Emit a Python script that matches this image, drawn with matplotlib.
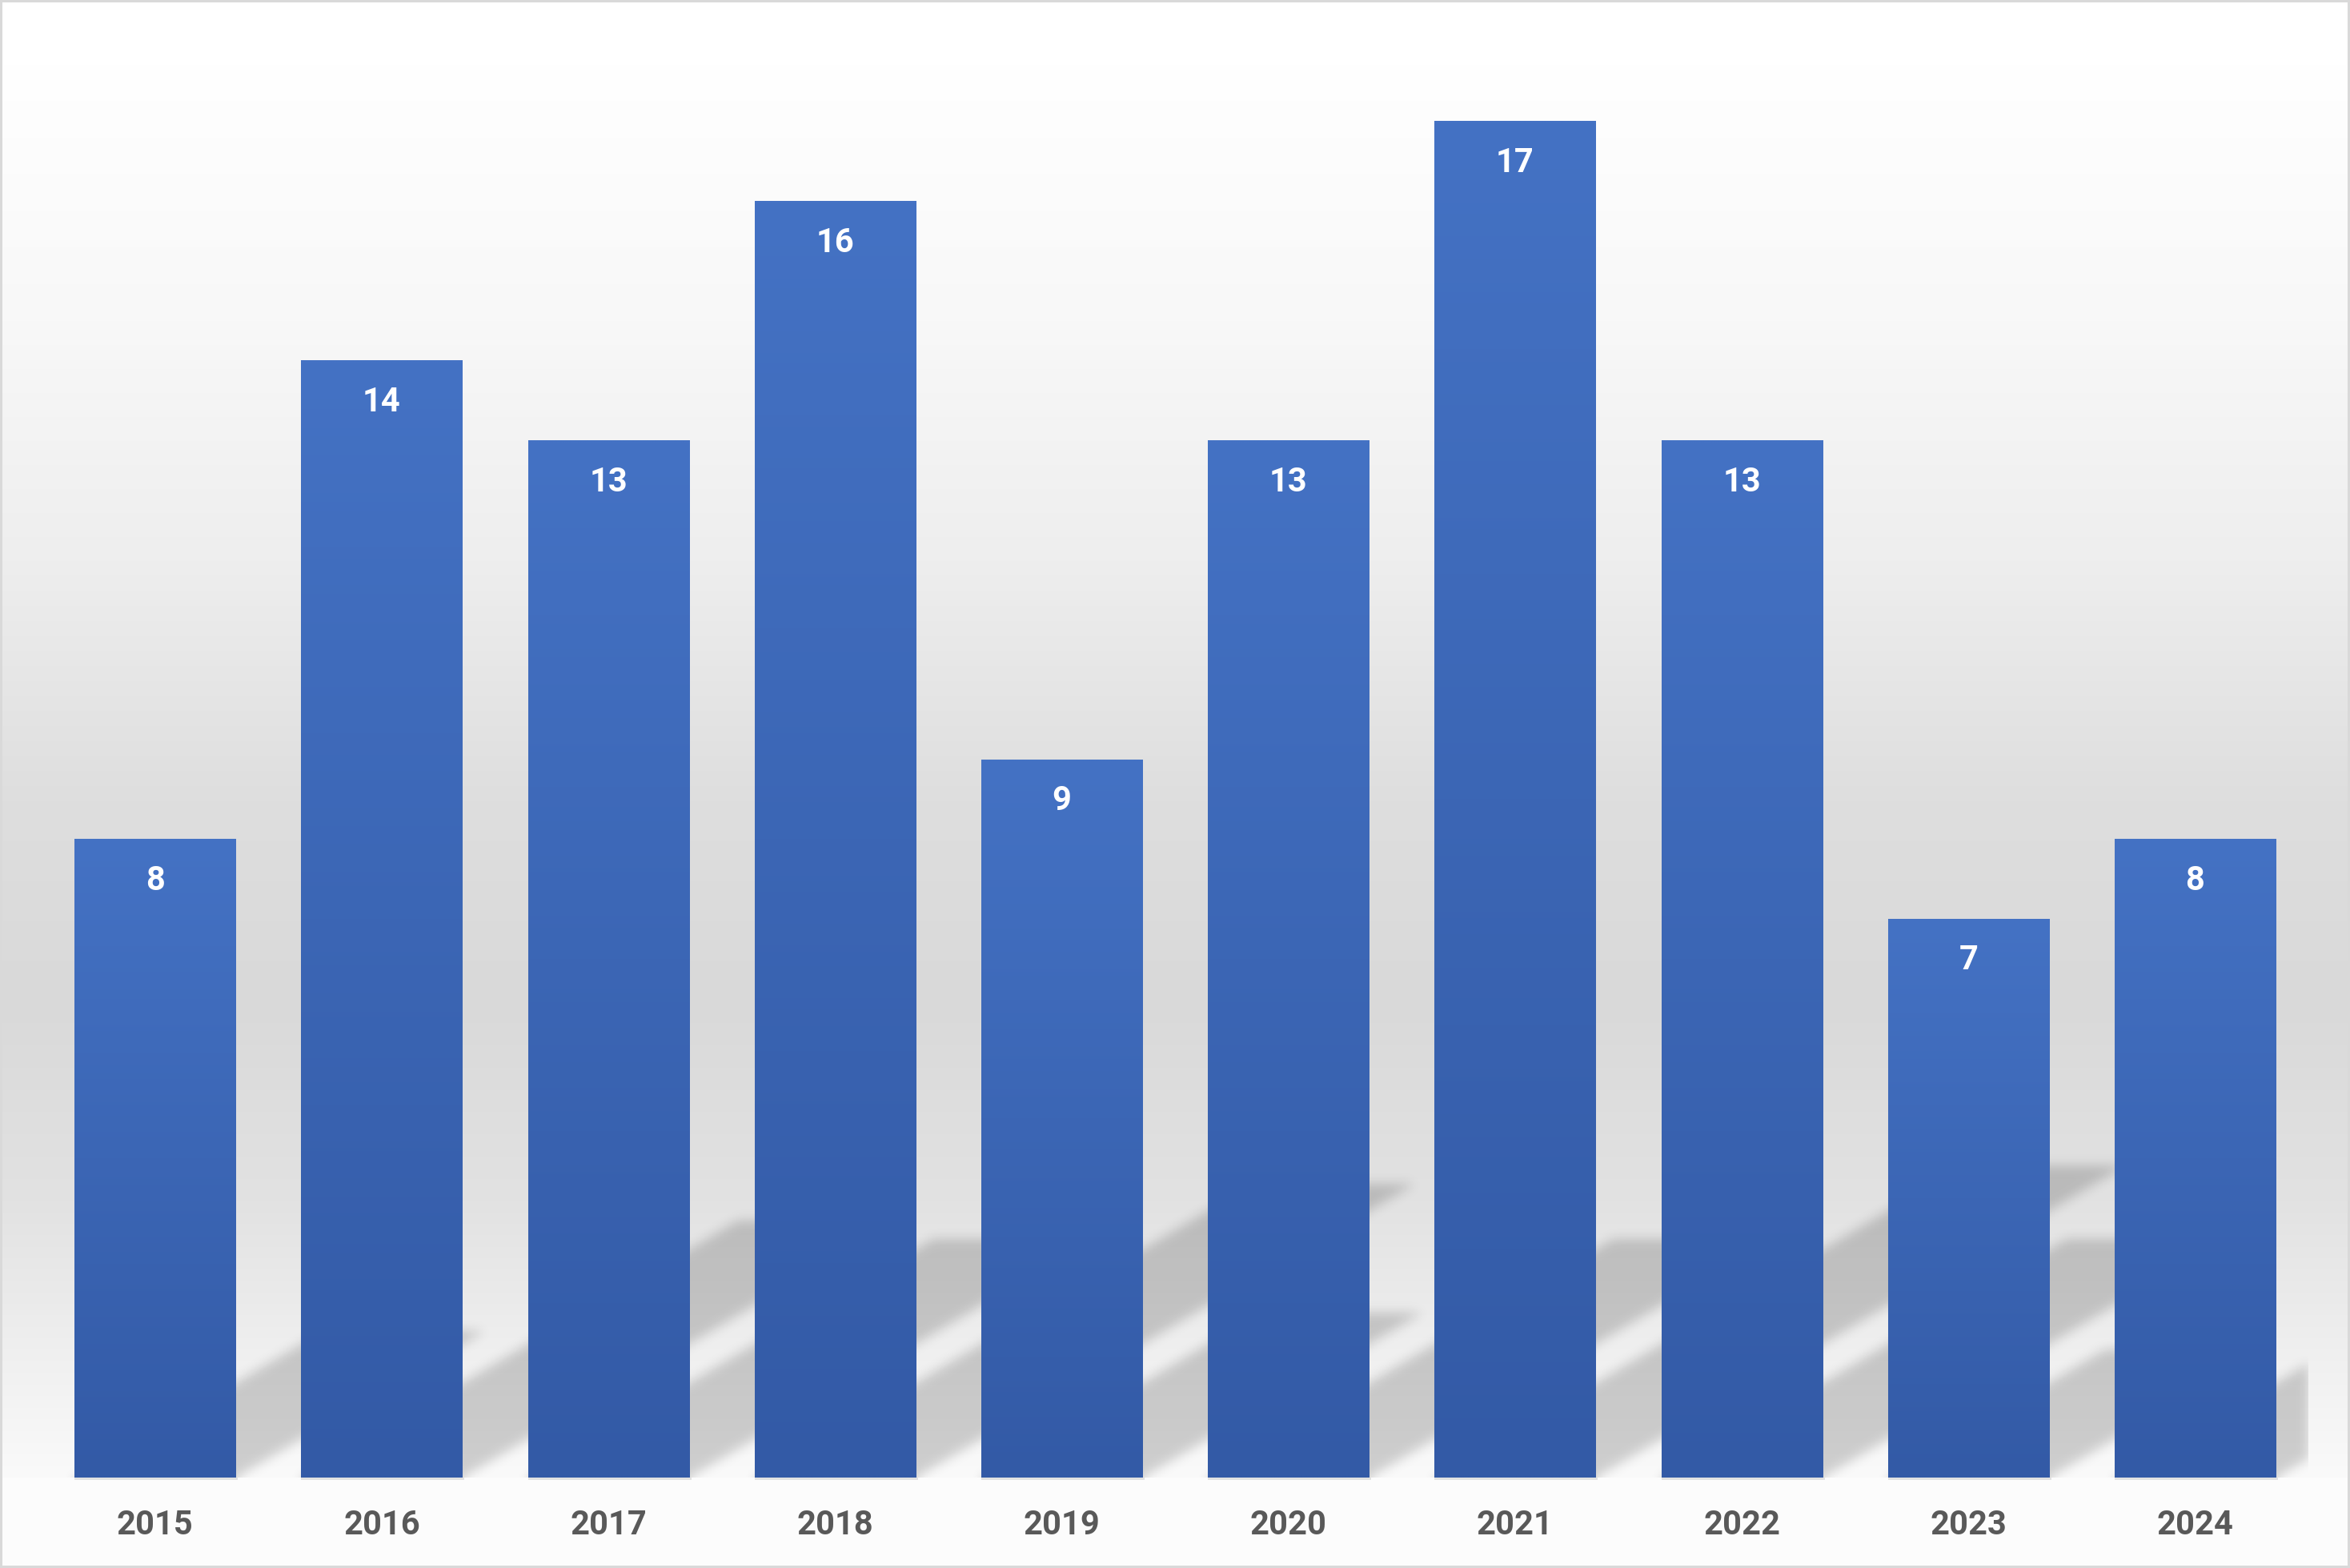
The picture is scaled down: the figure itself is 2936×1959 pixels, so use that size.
import numpy as np
import matplotlib
matplotlib.use("Agg")
import matplotlib.pyplot as plt
from matplotlib.patches import Rectangle

# ---------------- data ----------------
years = ["2015", "2016", "2017", "2018", "2019", "2020", "2021", "2022", "2023", "2024"]
values = [8, 14, 13, 16, 9, 13, 17, 13, 7, 8]

# ---------------- figure ----------------
W, H = 2936, 1959
DPI = 100
plt.rcParams["font.family"] = ["Roboto", "DejaVu Sans"]
fig = plt.figure(figsize=(W / DPI, H / DPI), dpi=DPI)

BASE_PX = 1846          # baseline (px from top)
TOP_PX = 52.3
LEFT_PX = 52.2
RIGHT_PX = 2884.0

# background gradient (figure level)
bg = fig.add_axes([0, 0, 1, 1], zorder=-10)
bg.set_axis_off()
rows = np.arange(H)
stops_y = [0, 80, 400, 700, 1000, 1250, 1500, 1700, BASE_PX]
stops_v = [255, 255, 248, 238, 222, 217, 226, 240, 250]
v = np.interp(rows, stops_y, stops_v)
v[rows >= BASE_PX] = 252
bgimg = np.repeat((v / 255.0)[:, None, None], 3, axis=2)
bg.imshow(bgimg, extent=(0, 1, 0, 1), aspect="auto", origin="upper",
          interpolation="nearest")
bg.set_xlim(0, 1)
bg.set_ylim(0, 1)
bg.add_patch(Rectangle((0, 0), 1, 1, transform=bg.transAxes, fill=False,
                       edgecolor="#d9d9d9", linewidth=6 * 72 / DPI, zorder=5))

# main axes
ax = fig.add_axes([LEFT_PX / W, (H - BASE_PX) / H,
                   (RIGHT_PX - LEFT_PX) / W, (BASE_PX - TOP_PX) / H])
ax.patch.set_alpha(0)
XMIN, XMAX, YMIN, YMAX = -0.5, 9.5, 0, 18
x = np.arange(len(years))
bars = ax.bar(x, values, width=0.71, color="none", edgecolor="none", zorder=3)

# ---------------- perspective shadows ----------------
nx = int(round(RIGHT_PX - LEFT_PX))
ny = int(round(BASE_PX - TOP_PX))
px_per_x = nx / (XMAX - XMIN)
px_per_y = ny / (YMAX - YMIN)
skew_px = 1.7                       # horizontal px per vertical px
k = skew_px * px_per_y / px_per_x   # data x per data y
scale_y = 0.23
xs = XMIN + (np.arange(nx) + 0.5) / px_per_x
ys = YMIN + (np.arange(ny) + 0.5) / px_per_y
X = xs[None, :]
Y = ys[:, None]
mask = np.zeros((ny, nx), dtype=float)
for b in bars:
    x0 = b.get_x()
    x1 = x0 + b.get_width()
    S = scale_y * b.get_height()
    inside = (Y <= S) & (X >= x0 + k * Y) & (X <= x1 + k * Y)
    mask = np.maximum(mask, inside.astype(float))

def blur(a, sigma):
    r = int(3 * sigma)
    t = np.arange(-r, r + 1)
    kern = np.exp(-0.5 * (t / sigma) ** 2)
    kern /= kern.sum()
    p = np.pad(a, ((0, 0), (r, r)), mode="constant")
    out = np.zeros_like(a)
    for i, w in enumerate(kern):
        out += w * p[:, i:i + a.shape[1]]
    p = np.pad(out, ((r, r), (0, 0)), mode="edge")
    out2 = np.zeros_like(a)
    for i, w in enumerate(kern):
        out2 += w * p[i:i + a.shape[0], :]
    return out2

sh = blur(mask, 7.0)
rgba = np.zeros((ny, nx, 4))
rgba[..., 3] = 0.175 * sh
ax.imshow(rgba, extent=(XMIN, XMAX, YMIN, YMAX), origin="lower",
          aspect="auto", zorder=1, interpolation="nearest")

# ---------------- gradient bars ----------------
top_c = np.array([0x44, 0x72, 0xC4]) / 255.0
bot_c = np.array([0x33, 0x5A, 0xA6]) / 255.0
tgrad = np.linspace(0, 1, 256)[:, None]
grad = (top_c[None, :] * (1 - tgrad) + bot_c[None, :] * tgrad)[:, None, :]
for b in bars:
    x0 = b.get_x()
    ax.imshow(grad, extent=(x0, x0 + b.get_width(), 0, b.get_height()),
              origin="upper", aspect="auto", zorder=3, interpolation="bilinear")
    # faint drop shadow just under each bar
    ax.add_patch(Rectangle((x0, 0), b.get_width() + 3 / px_per_x, -3.5 / px_per_y,
                           facecolor="#e2e2e2", edgecolor="none",
                           clip_on=False, zorder=2))

# value labels
for b, val in zip(bars, values):
    ax.annotate(str(val), xy=(b.get_x() + b.get_width() / 2, b.get_height()),
                xytext=(0, -63 * 72 / DPI), textcoords="offset points",
                ha="center", va="baseline", color="white",
                fontsize=30, fontweight="bold")

ax.set_xlim(XMIN, XMAX)
ax.set_ylim(YMIN, YMAX)
ax.set_xticks(x, years)
ax.set_yticks([])
ax.tick_params(axis="x", length=0, pad=71 * 72 / DPI, labelsize=30,
               labelcolor="#595959")
for lbl in ax.get_xticklabels():
    lbl.set_verticalalignment("baseline")
    lbl.set_fontweight("bold")
for s in ["top", "left", "right", "bottom"]:
    ax.spines[s].set_visible(False)

fig.savefig("out.png", dpi=DPI)
